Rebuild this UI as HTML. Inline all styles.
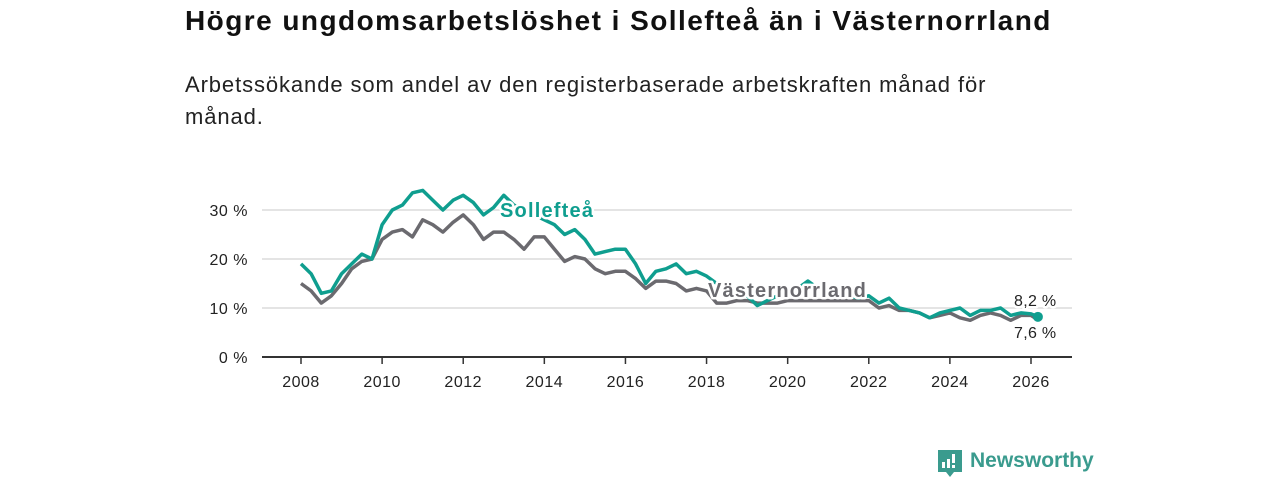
<!DOCTYPE html>
<html><head><meta charset="utf-8"><style>
body{margin:0;width:1280px;height:480px;background:#fff;font-family:"Liberation Sans","DejaVu Sans",sans-serif;position:relative;overflow:hidden}
h1{position:absolute;left:185px;top:5px;margin:0;font-size:28px;font-weight:bold;color:#111;letter-spacing:1.45px;white-space:nowrap}
p{position:absolute;left:185px;top:69px;margin:0;font-size:22px;line-height:32px;color:#222;width:850px;letter-spacing:0.9px}
svg{position:absolute;left:0;top:0}
</style></head><body>
<h1>Högre ungdomsarbetslöshet i Sollefteå än i Västernorrland</h1>
<p>Arbetssökande som andel av den registerbaserade arbetskraften månad för månad.</p>
<svg id="c" width="1280" height="480"></svg>
<script>
const years=[2008,2010,2012,2014,2016,2018,2020,2022,2024,2026];
const yTicks=[0,10,20,30];
const times=[2008,2008.25,2008.5,2008.75,2009,2009.25,2009.5,2009.75,2010,2010.25,2010.5,2010.75,2011,2011.25,2011.5,2011.75,2012,2012.25,2012.5,2012.75,2013,2013.25,2013.5,2013.75,2014,2014.25,2014.5,2014.75,2015,2015.25,2015.5,2015.75,2016,2016.25,2016.5,2016.75,2017,2017.25,2017.5,2017.75,2018,2018.25,2018.5,2018.75,2019,2019.25,2019.5,2019.75,2020,2020.25,2020.5,2020.75,2021,2021.25,2021.5,2021.75,2022,2022.25,2022.5,2022.75,2023,2023.25,2023.5,2023.75,2024,2024.25,2024.5,2024.75,2025,2025.25,2025.5,2025.75,2026,2026.17];
const solleftea=[19,17,13,13.5,17,19,21,20,27,30,31,33.5,34,32,30,32,33,31.5,29,30.5,33,31,30,29,28,27,25,26,24,21,21.5,22,22,19,15,17.5,18,19,17,17.5,16.5,15,14,13.5,12.5,10.5,11.5,12.5,13,14,15.5,14,13.5,13,12.5,12,12.5,11,12,10,9.5,9,8,9,9.5,10,8.5,9.5,9.5,10,8.5,9,8.8,8.2];
const vasternorrland=[15,13.5,11,12.5,15,18,19.5,20,24,25.5,26,24.5,28,27,25.5,27.5,29,27,24,25.5,25.5,24,22,24.5,24.5,22,19.5,20.5,20,18,17,17.5,17.5,16,14,15.5,15.5,15,13.5,14,13.5,11,11,11.5,11.5,11,11,11,11.5,11.5,11.5,11.5,11.5,11.5,11.5,11.5,11.5,10,10.5,9.5,9.5,9,8,8.5,9,8,7.5,8.5,9,8.5,7.5,8.5,8.5,7.6];
const NS='http://www.w3.org/2000/svg';
const svg=document.getElementById('c');
const X=t=>301+(t-2008)*(1031-301)/18;
const Y=v=>357-v*4.9;
function mk(tag,attrs,parent){const e=document.createElementNS(NS,tag);for(const k in attrs)e.setAttribute(k,attrs[k]);(parent||svg).appendChild(e);return e;}
yTicks.forEach(v=>{
  if(v>0){const g=mk('line',{x1:262,x2:1072,y1:Y(v),y2:Y(v),stroke:'#dcdcdc','stroke-width':1.5});
  
  }
  const t=mk('text',{x:248,y:Y(v)+6,'text-anchor':'end','font-size':16,'letter-spacing':0.5,fill:'#222'});t.textContent=v+' %';
  
  
});
const ax=mk('line',{x1:262,x2:1072,y1:357,y2:357,stroke:'#333','stroke-width':2});


years.forEach(y=>{
  mk('line',{x1:X(y),x2:X(y),y1:357,y2:364,stroke:'#333','stroke-width':1.5});
  const t=mk('text',{x:X(y),y:387,'text-anchor':'middle','font-size':16,'letter-spacing':0.5,fill:'#222'});t.textContent=y;
  
  
});
function line(vals,color,name){
  const d=vals.map((v,i)=>(i?'L':'M')+X(times[i]).toFixed(1)+','+Y(v).toFixed(1)).join('');
  const p=mk('path',{d:d,fill:'none',stroke:color,'stroke-width':3.5,'stroke-linejoin':'round'});
  
  
}
line(vasternorrland,'#6b6a6f','line-vasternorrland');
line(solleftea,'#0f9e8f','line-solleftea');
const dot=mk('circle',{cx:X(times[times.length-1]),cy:Y(solleftea[solleftea.length-1]),r:5,fill:'#0f9e8f'});


function lab(x,y,txt,color,size,weight,name,ls){
  const t=mk('text',{x:x,y:y,'font-size':size,'font-weight':weight,'letter-spacing':ls,fill:color,stroke:'#fff','stroke-width':5,'paint-order':'stroke','stroke-linejoin':'round'});
  t.textContent=txt;
  
  
}
lab(500,217,'Sollefteå','#0f9e8f',20,'bold','label-solleftea',1.2);
lab(708,297,'Västernorrland','#6b6a6f',20,'bold','label-vasternorrland',1.2);
lab(1014,306,'8,2 %','#222',16,'normal','value-solleftea',0.3);
lab(1014,338,'7,6 %','#222',16,'normal','value-vasternorrland',0.3);
</script>
<svg width="30" height="34" style="left:937px;top:448px">
<path d="M1 2h24v22h-8l-4 5-4-5H1z" fill="#3a9b8e"/>
<rect x="5" y="14" width="3" height="6" fill="#fff"/><rect x="10" y="11" width="3" height="9" fill="#fff"/><rect x="15" y="6" width="3" height="9" fill="#fff"/><rect x="15" y="17" width="3" height="3" fill="#fff"/>
</svg>
<div style="position:absolute;left:970px;top:449px;font-size:21px;color:#3a9b8e;font-weight:bold">Newsworthy</div>
</body></html>
